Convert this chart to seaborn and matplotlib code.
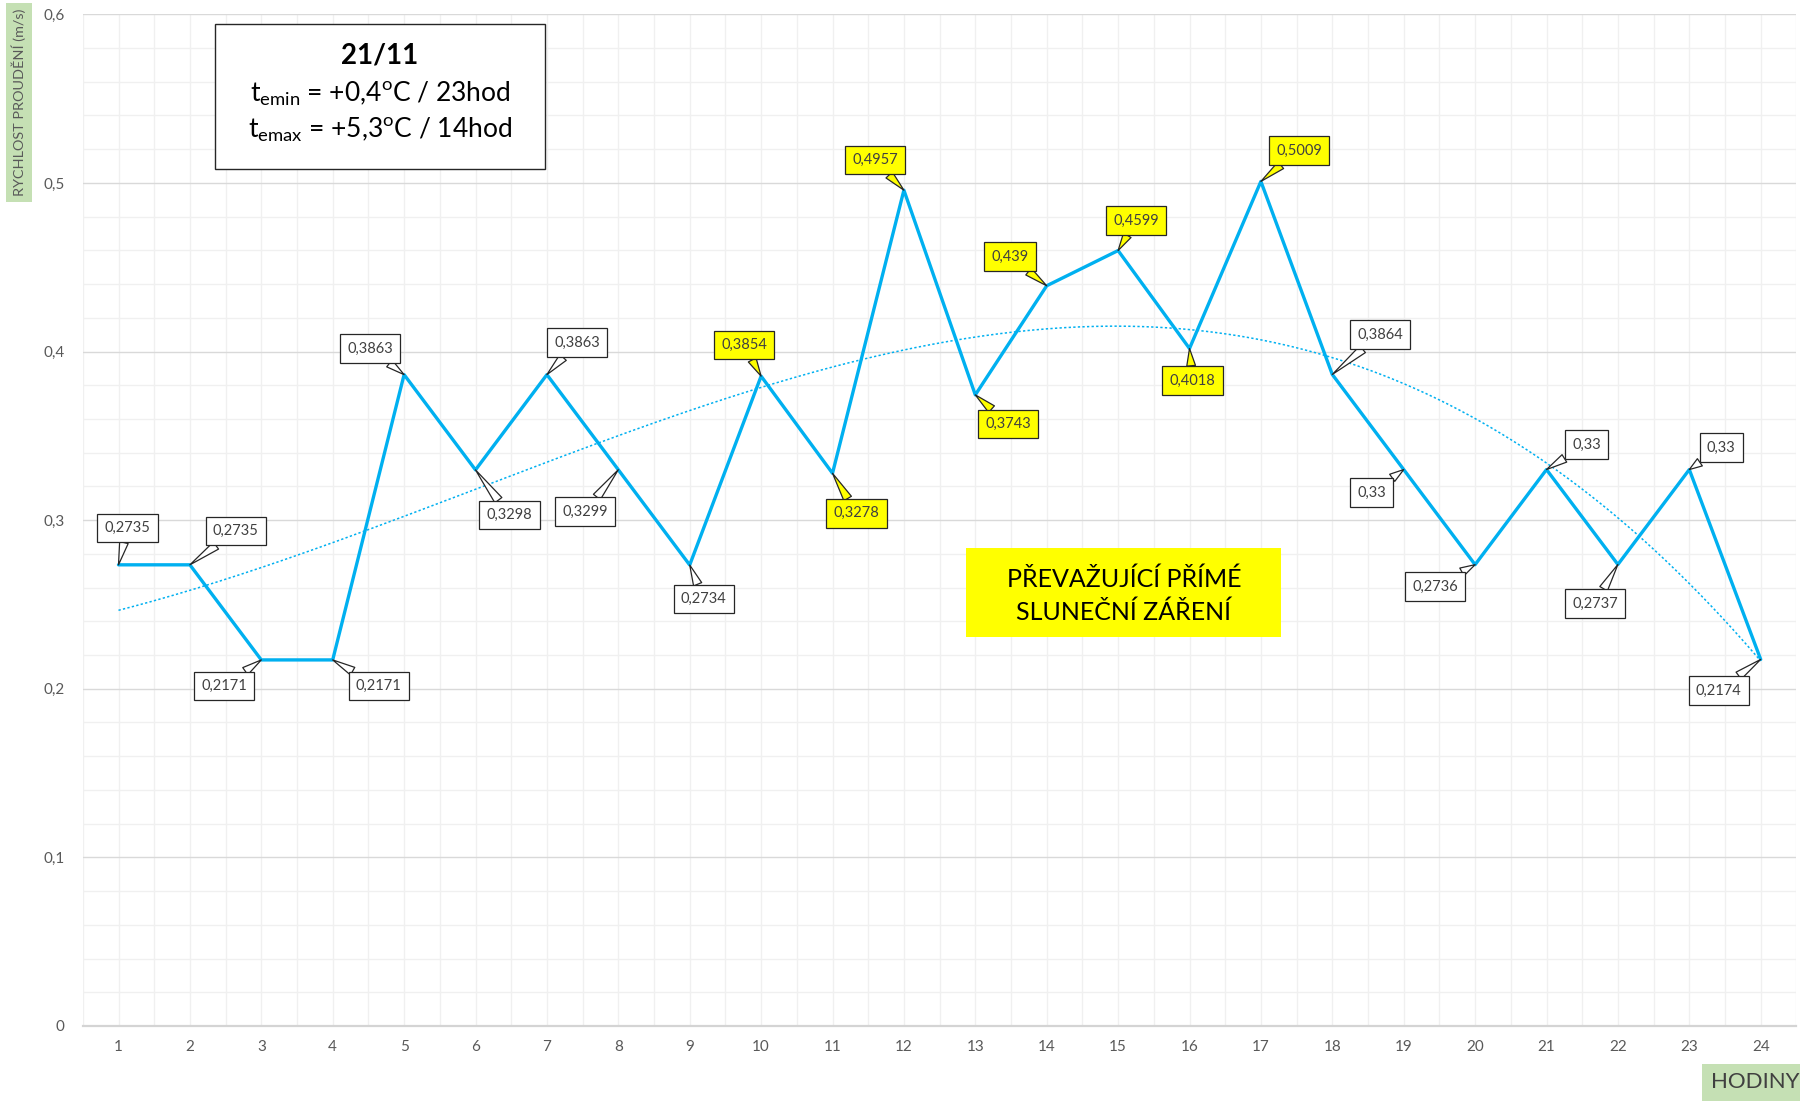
import numpy as np
import pandas as pd
import matplotlib
matplotlib.use("Agg")
import matplotlib.pyplot as plt
import seaborn as sns
from matplotlib.patches import Rectangle
from matplotlib.ticker import MultipleLocator, FuncFormatter

# ==========================
# Data
# ==========================
hours = list(range(1, 25))
speed = [0.2735, 0.2735, 0.2171, 0.2171, 0.3863, 0.3298, 0.3863, 0.3299,
         0.2734, 0.3854, 0.3278, 0.4957, 0.3743, 0.439, 0.4599, 0.4018,
         0.5009, 0.3864, 0.33, 0.2736, 0.33, 0.2737, 0.33, 0.2174]
sunny_hours = [10, 11, 12, 13, 14, 15, 16, 17]
y_ticks = [0, 0.1, 0.2, 0.3, 0.4, 0.5, 0.6]

title_date = "21/11"
title_min = r"t$_\mathregular{emin}$ = +0,4$^\mathregular{o}$C / 23hod"
title_max = r"t$_\mathregular{emax}$ = +5,3$^\mathregular{o}$C / 14hod"
note_text = "PŘEVAŽUJÍCÍ PŘÍMÉ\nSLUNEČNÍ ZÁŘENÍ"
y_label = "RYCHLOST PROUDĚNÍ (m/s)"
x_label = "HODINY"

# callout box offsets from each point (pixels, layout only)
label_offsets = [(9, 37), (46, 34), (-37, -26), (46, -26), (-34, 26), (34, -45),
                 (30, 32), (-33, -42), (14, -34), (-17, 31), (24, -40), (-29, 30),
                 (33, -29), (-37, 29), (18, 30), (3, -32), (38, 31), (48, 40),
                 (-32, -23), (-40, -22), (40, 25), (-23, -39), (32, 22), (-42, -31)]

df = pd.DataFrame({"hodina": hours, "rychlost": speed})

# ==========================
# Style
# ==========================
sns.set_theme(style="white")
plt.rcParams["font.family"] = ["Lato", "DejaVu Sans"]
plt.rcParams["mathtext.fontset"] = "custom"
plt.rcParams["mathtext.rm"] = "Lato"

LINE = "#00b0f0"
GREEN = "#c5e0b4"
TICK = "#595959"

fig = plt.figure(figsize=(18, 11.02), dpi=100)
ax = fig.add_axes([0.046, 0.069, 0.952, 0.918])

# grid
ax.set_xlim(0.5, 24.5)
ax.set_ylim(0, 0.6)
ax.xaxis.set_major_locator(MultipleLocator(1))
ax.xaxis.set_minor_locator(MultipleLocator(0.5))
ax.yaxis.set_major_locator(MultipleLocator(0.1))
ax.yaxis.set_minor_locator(MultipleLocator(0.02))
ax.grid(which="minor", color="#f0f0f0", lw=1.0, zorder=0)
ax.grid(which="major", axis="y", color="#d9d9d9", lw=1.0, zorder=0)
ax.grid(which="major", axis="x", color="#f0f0f0", lw=1.0, zorder=0)
ax.set_axisbelow(True)
for side in ["top", "right", "left"]:
    ax.spines[side].set_visible(False)
ax.spines["bottom"].set_color("#d4d4d4")
ax.spines["bottom"].set_linewidth(1.6)

ax.tick_params(which="both", length=0, colors=TICK, labelsize=11)
ax.tick_params(axis="x", pad=10)
ax.tick_params(axis="y", pad=13)
ax.set_xticks(hours)
ax.set_yticks(y_ticks)
ax.yaxis.set_major_formatter(FuncFormatter(lambda v, p: f"{v:g}".replace(".", ",")))

# trendline (polynomial fit of the series, as in the original sheet)
coef = np.polyfit(hours, speed, 3)
xs = np.linspace(hours[0], hours[-1], 300)
ax.plot(xs, np.polyval(coef, xs), color=LINE, lw=1.1, ls=(0, (1.5, 1.5)), zorder=2)

# main line
sns.lineplot(data=df, x="hodina", y="rychlost", ax=ax, color=LINE, lw=2.4, zorder=3)
ax.set_xlabel("")
ax.set_ylabel("")

# callouts
for h, v, off in zip(hours, speed, label_offsets):
    fc = "#ffff00" if h in sunny_hours else "white"
    ax.annotate(f"{v}".replace(".", ","), xy=(h, v), xytext=off,
                textcoords="offset pixels", ha="center", va="center",
                fontsize=10.5, color="#404040", zorder=5,
                bbox=dict(boxstyle="square,pad=0.5", fc=fc, ec="#262626", lw=0.9),
                arrowprops=dict(arrowstyle="wedge,tail_width=0.6,shrink_factor=0.5",
                                fc=fc, ec="#262626", lw=0.9, shrinkA=0, shrinkB=0))

# info box
ax.add_patch(Rectangle((0.077, 0.847), 0.193, 0.143, transform=ax.transAxes,
                       fc="white", ec="#262626", lw=1.0, zorder=6))
ax.text(0.1735, 0.959, title_date, transform=ax.transAxes, ha="center", va="center",
        fontsize=20, fontweight="bold", color="black", zorder=7)
ax.text(0.1735, 0.922, title_min, transform=ax.transAxes, ha="center", va="center",
        fontsize=19, color="black", zorder=7)
ax.text(0.1735, 0.886, title_max, transform=ax.transAxes, ha="center", va="center",
        fontsize=19, color="black", zorder=7)

# yellow note
ax.add_patch(Rectangle((0.5155, 0.384), 0.184, 0.088, transform=ax.transAxes,
                       fc="#ffff00", ec="none", zorder=6))
ax.text(0.6075, 0.425, note_text, transform=ax.transAxes, ha="center", va="center",
        fontsize=18, color="black", linespacing=1.5, zorder=7)

# axis titles with green background
fig.text(0.0105, 0.907, y_label, rotation=90, ha="center", va="center",
         fontsize=10.4, color=TICK,
         bbox=dict(boxstyle="square,pad=0.4", fc=GREEN, ec="none"))
fig.text(0.9995, 0.018, x_label, ha="right", va="center", fontsize=16, color="#404040",
         bbox=dict(boxstyle="square,pad=0.38", fc=GREEN, ec="none"))

fig.savefig("out.png", dpi=100)
